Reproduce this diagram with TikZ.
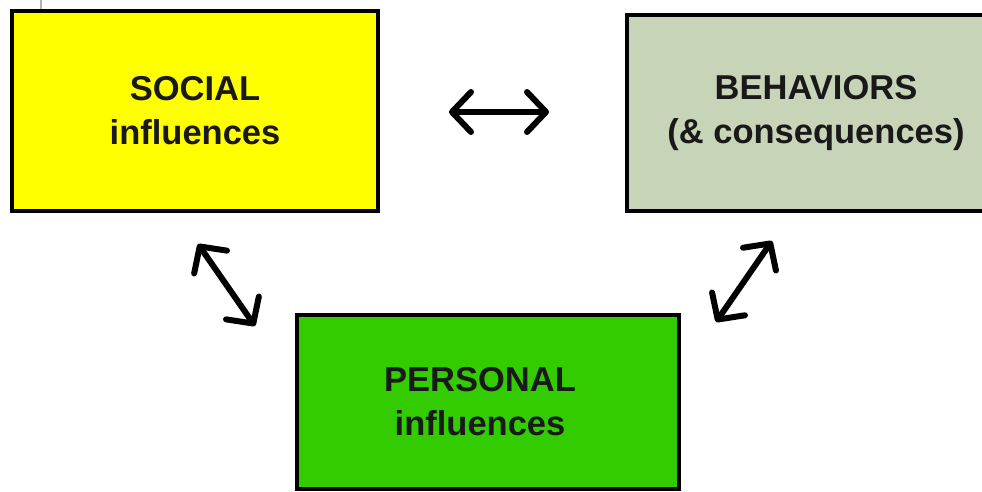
\documentclass[tikz,border=0pt]{standalone}
\usepackage{fontspec}
\setmainfont{Liberation Sans}
\usetikzlibrary{arrows.meta}
\definecolor{socialyellow}{HTML}{FFFF00}
\definecolor{behavgray}{HTML}{C8D4B8}
\definecolor{persgreen}{HTML}{33CC00}
\tikzset{
  box/.style={draw=black, line width=4pt, rectangle, align=center, inner sep=0pt,
    font=\fontsize{34.5}{44}\selectfont\bfseries, text=black!90},
  dblarrow/.style={line width=6pt, line cap=round,
    {Straight Barb[length=19pt,width=40pt,round]}-{Straight Barb[length=19pt,width=40pt,round]}}
}
\begin{document}
\begin{tikzpicture}[x=1pt,y=-1pt]
\useasboundingbox (0,0) rectangle (982,492);
\fill[white] (0,0) rectangle (982,492);
\clip (0,0) rectangle (982,492);
\draw[gray!60, line width=2pt] (41,0) -- (41,13);
\node[box, fill=socialyellow, minimum width=366pt, minimum height=200pt] (soc) at (195,111) {SOCIAL\\influences};
\node[box, fill=behavgray, minimum width=378pt, minimum height=196pt] (beh) at (816,113) {BEHAVIORS\\(\& consequences)};
\node[box, fill=persgreen, minimum width=382pt, minimum height=174pt] (per) at (488,402) {PERSONAL\hspace*{16pt}\\influences\hspace*{16pt}};
\coordinate (h1) at (449,112);
\coordinate (h2) at (549,112);
\coordinate (l1) at (198,244);
\coordinate (l2) at (255,326);
\coordinate (r1) at (772,241);
\coordinate (r2) at (716,322);
\draw[dblarrow] (h1) -- (h2);
\draw[dblarrow] (l1) -- (l2);
\draw[dblarrow] (r1) -- (r2);
\end{tikzpicture}
\end{document}
